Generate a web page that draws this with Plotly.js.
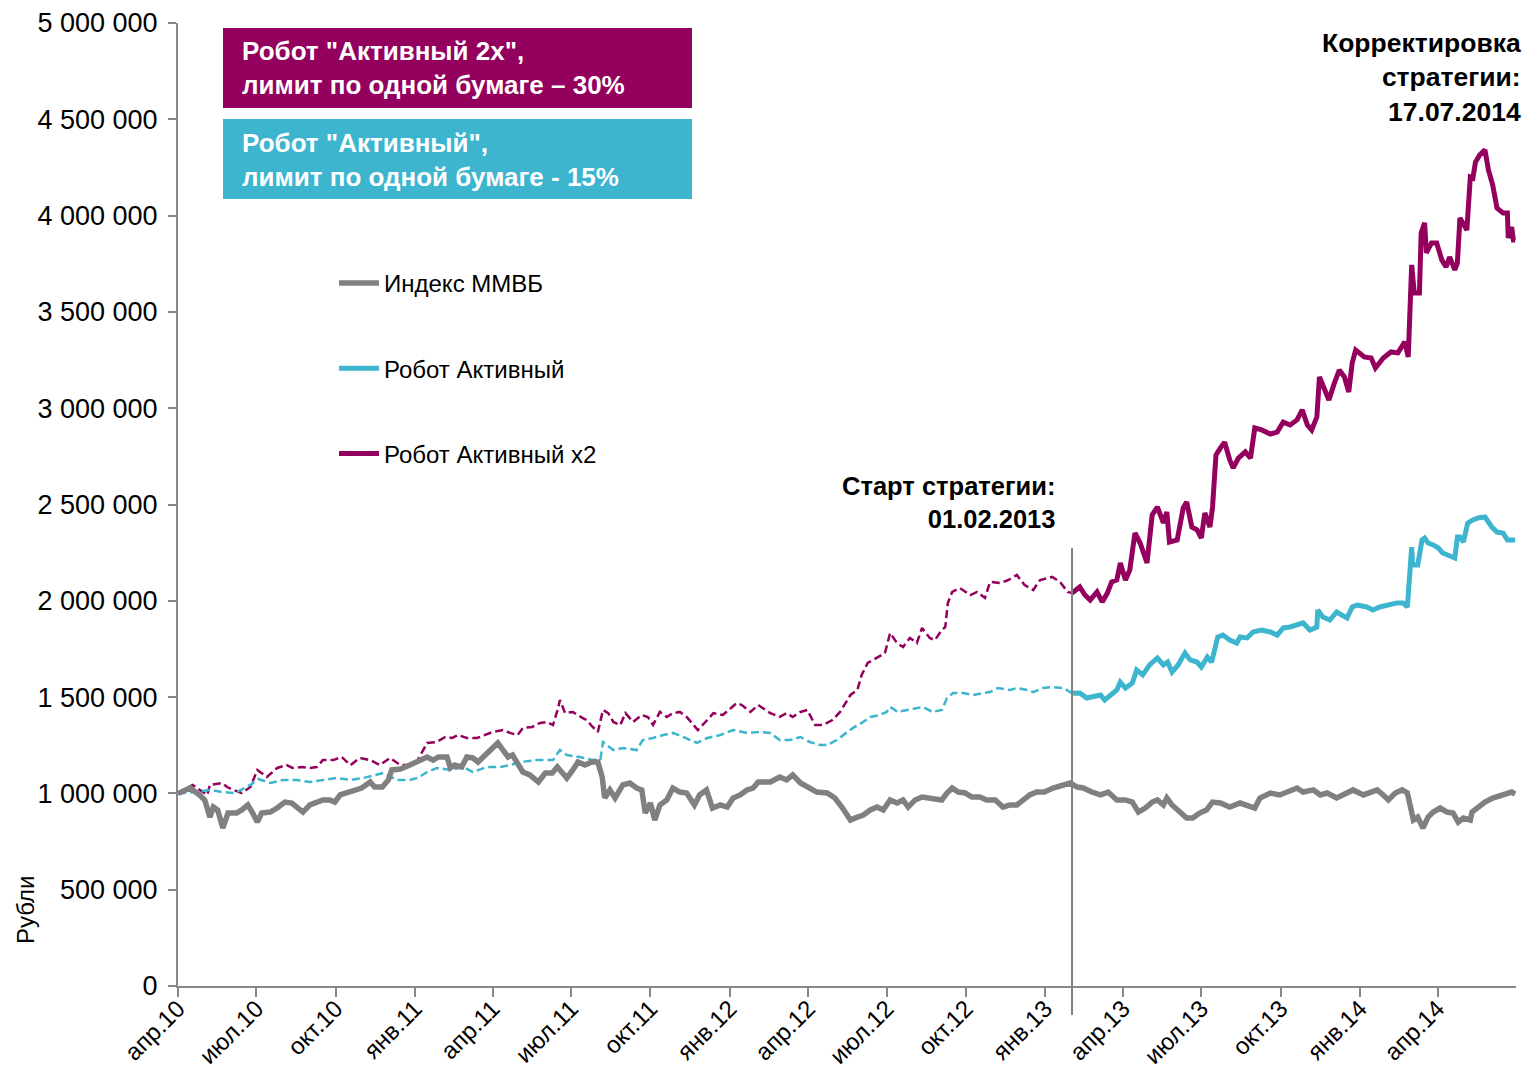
<!DOCTYPE html>
<html><head><meta charset="utf-8">
<script src="https://cdn.plot.ly/plotly-3.0.1.min.js"></script>
<style>html,body{margin:0;padding:0;background:#fff}#chart{width:1525px;height:1078px}</style>
</head><body><div id="chart"></div>
<script>
// ===== DATA =====
const seriesNames = ['Индекс ММВБ', 'Робот Активный', 'Робот Активный x2'];
const startDate = '2013-02-01';
const quarterTicks = ['2010-04-01','2010-07-01','2010-10-01','2011-01-01','2011-04-01','2011-07-01','2011-10-01','2012-01-01','2012-04-01','2012-07-01','2012-10-01','2013-01-01','2013-04-01','2013-07-01','2013-10-01','2014-01-01','2014-04-01'];
const quarterLabels = ['апр.10','июл.10','окт.10','янв.11','апр.11','июл.11','окт.11','янв.12','апр.12','июл.12','окт.12','янв.13','апр.13','июл.13','окт.13','янв.14','апр.14'];
const yTicks = [0,500000,1000000,1500000,2000000,2500000,3000000,3500000,4000000,4500000,5000000];

// Индекс ММВБ (normalised to 1 000 000)
const mmvb = [
['2010-04-01',1000000],['2010-04-15',1028000],['2010-04-26',992000],['2010-05-02',966000],['2010-05-08',877000],['2010-05-12',929000],['2010-05-17',914000],['2010-05-23',820000],['2010-05-29',898000],
['2010-06-08',898000],['2010-06-14',914000],['2010-06-21',940000],['2010-06-26',903000],['2010-07-02',851000],['2010-07-07',898000],['2010-07-17',903000],['2010-07-25',924000],
['2010-08-03',955000],['2010-08-11',950000],['2010-08-18',929000],['2010-08-24',903000],['2010-09-01',940000],['2010-09-09',955000],['2010-09-16',966000],['2010-09-24',966000],['2010-09-30',955000],
['2010-10-06',992000],['2010-10-14',1002000],['2010-10-21',1018000],['2010-10-31',1028000],['2010-11-10',1059000],['2010-11-15',1033000],['2010-11-24',1033000],['2010-12-01',1070000],['2010-12-05',1122000],['2010-12-15',1127000],['2010-12-26',1147000],
['2011-01-04',1163000],['2011-01-15',1189000],['2011-01-22',1173000],['2011-01-28',1189000],['2011-02-07',1189000],['2011-02-11',1132000],['2011-02-16',1147000],['2011-02-24',1137000],
['2011-03-02',1189000],['2011-03-09',1184000],['2011-03-15',1163000],['2011-03-25',1210000],['2011-04-01',1241000],['2011-04-07',1262000],['2011-04-13',1225000],['2011-04-19',1189000],['2011-04-24',1199000],['2011-04-30',1158000],
['2011-05-06',1111000],['2011-05-14',1096000],['2011-05-24',1059000],['2011-06-01',1106000],['2011-06-09',1106000],['2011-06-15',1137000],['2011-06-20',1111000],['2011-06-26',1080000],
['2011-07-03',1122000],['2011-07-09',1163000],['2011-07-17',1147000],['2011-07-25',1163000],['2011-08-01',1163000],['2011-08-06',1085000],['2011-08-09',976000],['2011-08-15',1018000],['2011-08-21',976000],['2011-08-30',1044000],
['2011-09-07',1054000],['2011-09-15',1028000],['2011-09-21',1018000],['2011-09-25',898000],['2011-10-01',950000],['2011-10-06',862000],['2011-10-12',940000],['2011-10-20',966000],['2011-10-27',1028000],
['2011-11-04',1007000],['2011-11-12',1002000],['2011-11-21',940000],['2011-11-27',992000],['2011-12-05',1018000],['2011-12-12',924000],['2011-12-21',940000],['2011-12-29',929000],
['2012-01-05',976000],['2012-01-13',992000],['2012-01-21',1018000],['2012-01-28',1028000],['2012-02-03',1059000],['2012-02-17',1059000],['2012-02-28',1085000],['2012-03-07',1070000],['2012-03-14',1096000],['2012-03-23',1054000],
['2012-04-01',1028000],['2012-04-11',1007000],['2012-04-23',1002000],['2012-05-02',976000],['2012-05-10',929000],['2012-05-16',888000],['2012-05-20',862000],['2012-05-28',877000],
['2012-06-04',888000],['2012-06-12',914000],['2012-06-20',929000],['2012-06-27',914000],['2012-07-05',966000],['2012-07-13',950000],['2012-07-20',966000],['2012-07-26',929000],
['2012-08-03',966000],['2012-08-11',981000],['2012-08-18',976000],['2012-08-26',976000],['2012-09-03',966000],['2012-09-09',1002000],['2012-09-15',1028000],['2012-09-22',1007000],['2012-09-30',1002000],
['2012-10-08',981000],['2012-10-17',981000],['2012-10-25',966000],['2012-11-04',966000],['2012-11-13',929000],['2012-11-21',940000],['2012-11-29',940000],['2012-12-06',966000],['2012-12-14',992000],['2012-12-22',1007000],['2012-12-31',1007000],
['2013-01-10',1028000],['2013-01-22',1044000],['2013-01-30',1054000],['2013-02-07',1033000],['2013-02-14',1028000],['2013-02-24',1007000],['2013-03-06',992000],['2013-03-15',1007000],['2013-03-25',966000],
['2013-04-04',966000],['2013-04-12',955000],['2013-04-19',903000],['2013-04-27',924000],['2013-05-05',955000],['2013-05-11',966000],['2013-05-18',940000],['2013-05-22',976000],['2013-05-28',940000],
['2013-06-04',914000],['2013-06-14',872000],['2013-06-21',872000],['2013-06-29',898000],['2013-07-07',914000],['2013-07-14',955000],['2013-07-23',950000],['2013-08-03',929000],['2013-08-15',950000],['2013-08-23',940000],
['2013-09-01',924000],['2013-09-07',976000],['2013-09-19',1002000],['2013-09-30',992000],['2013-10-12',1018000],['2013-10-20',1028000],['2013-10-27',1007000],['2013-11-08',1018000],['2013-11-16',992000],['2013-11-24',1002000],
['2013-12-05',976000],['2013-12-15',1002000],['2013-12-24',1018000],['2014-01-05',992000],['2014-01-13',1002000],['2014-01-21',1018000],['2014-01-28',992000],
['2014-02-03',966000],['2014-02-11',1002000],['2014-02-19',1018000],['2014-02-25',1002000],['2014-02-28',950000],['2014-03-04',862000],['2014-03-09',877000],['2014-03-15',820000],['2014-03-21',877000],['2014-03-27',903000],
['2014-04-04',924000],['2014-04-12',903000],['2014-04-19',898000],['2014-04-25',851000],['2014-05-01',872000],['2014-05-09',862000],['2014-05-11',903000],['2014-05-18',929000],['2014-05-26',955000],
['2014-06-04',976000],['2014-06-15',992000],['2014-06-26',1007000],['2014-06-30',997000]
];

// Робот Активный — backtest before start (dashed)
const activePre = [
['2010-04-01',1000000],['2010-04-21',1007000],['2010-05-08',1018000],['2010-05-22',1007000],['2010-06-06',1002000],['2010-06-24',1044000],['2010-07-03',1075000],['2010-07-17',1054000],
['2010-08-01',1070000],['2010-08-17',1070000],['2010-09-01',1059000],['2010-09-16',1070000],['2010-10-02',1080000],['2010-10-18',1070000],['2010-11-02',1080000],['2010-11-25',1106000],
['2010-12-11',1070000],['2010-12-26',1070000],['2011-01-04',1080000],['2011-01-15',1111000],['2011-01-26',1132000],['2011-02-11',1122000],['2011-02-26',1137000],['2011-03-09',1111000],['2011-03-25',1137000],
['2011-04-10',1137000],['2011-04-21',1147000],['2011-05-03',1163000],['2011-05-22',1173000],['2011-06-10',1173000],['2011-06-18',1225000],['2011-06-26',1199000],['2011-07-11',1189000],['2011-07-26',1173000],
['2011-08-04',1179000],['2011-08-07',1267000],['2011-08-19',1225000],['2011-08-30',1236000],['2011-09-15',1225000],['2011-09-22',1277000],['2011-10-04',1288000],['2011-10-16',1303000],['2011-10-27',1314000],
['2011-11-08',1293000],['2011-11-24',1262000],['2011-12-06',1288000],['2011-12-21',1303000],['2012-01-05',1329000],['2012-01-21',1314000],['2012-02-05',1319000],['2012-02-17',1314000],['2012-02-28',1277000],
['2012-03-11',1277000],['2012-03-23',1293000],['2012-04-03',1267000],['2012-04-15',1251000],['2012-04-23',1251000],['2012-05-04',1277000],['2012-05-16',1319000],['2012-05-23',1340000],['2012-06-02',1366000],
['2012-06-12',1397000],['2012-06-23',1407000],['2012-07-01',1423000],['2012-07-05',1449000],['2012-07-14',1423000],['2012-07-25',1433000],['2012-08-05',1443000],['2012-08-12',1449000],['2012-08-23',1423000],
['2012-09-03',1433000],['2012-09-09',1495000],['2012-09-16',1521000],['2012-09-28',1521000],['2012-10-09',1511000],['2012-10-21',1521000],['2012-10-29',1526000],['2012-11-07',1547000],['2012-11-21',1537000],
['2012-11-29',1547000],['2012-12-11',1537000],['2012-12-18',1526000],['2012-12-29',1547000],['2013-01-10',1552000],['2013-01-22',1547000],['2013-01-30',1526000],['2013-02-01',1520000]
];

// Робот Активный — live after start (solid)
const activePost = [
['2013-02-01',1520000],['2013-02-10',1521000],['2013-02-18',1495000],['2013-02-25',1500000],['2013-03-06',1511000],['2013-03-11',1485000],['2013-03-19',1511000],['2013-03-25',1537000],['2013-03-29',1578000],
['2013-04-04',1547000],['2013-04-12',1573000],['2013-04-17',1641000],['2013-04-24',1615000],['2013-05-02',1667000],['2013-05-11',1703000],['2013-05-18',1667000],['2013-05-23',1682000],['2013-05-28',1630000],
['2013-06-04',1667000],['2013-06-12',1729000],['2013-06-18',1693000],['2013-06-26',1682000],['2013-07-01',1656000],['2013-07-08',1708000],['2013-07-13',1682000],['2013-07-17',1760000],['2013-07-20',1812000],['2013-07-26',1822000],
['2013-08-03',1796000],['2013-08-11',1781000],['2013-08-15',1812000],['2013-08-23',1807000],['2013-08-30',1838000],['2013-09-09',1848000],['2013-09-19',1838000],['2013-09-27',1822000],
['2013-10-04',1859000],['2013-10-12',1864000],['2013-10-20',1874000],['2013-10-27',1885000],['2013-11-04',1848000],['2013-11-12',1864000],['2013-11-13',1952000],['2013-11-19',1916000],['2013-11-27',1900000],
['2013-12-05',1942000],['2013-12-11',1926000],['2013-12-17',1911000],['2013-12-23',1968000],['2013-12-29',1978000],['2014-01-09',1968000],['2014-01-16',1952000],['2014-01-24',1968000],
['2014-02-01',1978000],['2014-02-13',1989000],['2014-02-20',1989000],['2014-02-25',1968000],['2014-03-02',2279000],['2014-03-03',2186000],['2014-03-09',2186000],['2014-03-14',2316000],['2014-03-17',2326000],['2014-03-21',2300000],['2014-03-27',2290000],
['2014-04-02',2274000],['2014-04-07',2248000],['2014-04-16',2227000],['2014-04-21',2222000],['2014-04-24',2331000],['2014-04-27',2331000],['2014-05-01',2305000],['2014-05-06',2404000],['2014-05-12',2420000],['2014-05-18',2430000],['2014-05-26',2435000],
['2014-05-30',2409000],['2014-06-03',2383000],['2014-06-09',2357000],['2014-06-16',2352000],['2014-06-21',2316000],['2014-06-26',2316000],['2014-06-30',2316000]
];

// Робот Активный x2 — backtest before start (dashed)
const active2Pre = [
['2010-04-01',1000000],['2010-04-18',1044000],['2010-05-05',992000],['2010-05-08',1044000],['2010-05-22',1054000],['2010-05-28',1033000],['2010-06-04',1018000],['2010-06-14',1002000],['2010-06-24',1033000],
['2010-07-02',1122000],['2010-07-13',1085000],['2010-07-25',1132000],['2010-08-05',1147000],['2010-08-12',1132000],['2010-08-23',1137000],['2010-09-01',1132000],['2010-09-09',1137000],['2010-09-16',1173000],['2010-09-28',1173000],
['2010-10-08',1189000],['2010-10-18',1147000],['2010-10-29',1184000],['2010-11-10',1173000],['2010-11-21',1147000],['2010-12-03',1184000],['2010-12-15',1147000],['2010-12-26',1147000],
['2011-01-04',1173000],['2011-01-15',1262000],['2011-01-26',1267000],['2011-02-05',1293000],['2011-02-13',1288000],['2011-02-20',1303000],['2011-03-02',1288000],['2011-03-14',1288000],['2011-03-23',1303000],
['2011-04-01',1319000],['2011-04-13',1329000],['2011-04-21',1314000],['2011-04-30',1303000],['2011-05-06',1340000],['2011-05-17',1345000],['2011-05-26',1366000],['2011-06-03',1371000],['2011-06-10',1355000],
['2011-06-16',1444000],['2011-06-18',1485000],['2011-06-24',1417000],['2011-07-03',1423000],['2011-07-14',1392000],['2011-07-19',1381000],['2011-07-26',1345000],['2011-08-01',1319000],['2011-08-07',1433000],
['2011-08-13',1417000],['2011-08-19',1371000],['2011-08-27',1355000],['2011-09-02',1417000],['2011-09-11',1371000],['2011-09-21',1407000],['2011-09-28',1397000],['2011-10-04',1355000],['2011-10-12',1423000],
['2011-10-20',1397000],['2011-10-27',1417000],['2011-11-04',1423000],['2011-11-12',1397000],['2011-11-18',1366000],['2011-11-25',1329000],['2011-12-06',1381000],['2011-12-13',1417000],['2011-12-24',1407000],
['2012-01-03',1449000],['2012-01-09',1469000],['2012-01-15',1459000],['2012-01-25',1423000],['2012-02-03',1459000],['2012-02-17',1417000],['2012-02-28',1397000],['2012-03-07',1417000],['2012-03-14',1397000],
['2012-03-23',1423000],['2012-03-31',1433000],['2012-04-09',1355000],['2012-04-18',1355000],['2012-04-29',1381000],['2012-05-08',1423000],['2012-05-14',1469000],['2012-05-20',1511000],['2012-05-28',1537000],
['2012-06-02',1615000],['2012-06-09',1677000],['2012-06-20',1708000],['2012-06-29',1729000],['2012-07-05',1833000],['2012-07-13',1781000],['2012-07-20',1760000],['2012-07-28',1807000],['2012-08-05',1781000],
['2012-08-11',1859000],['2012-08-20',1807000],['2012-08-26',1796000],['2012-09-03',1848000],['2012-09-07',1864000],['2012-09-10',1989000],['2012-09-15',2046000],['2012-09-24',2066000],['2012-10-06',2030000],
['2012-10-14',2046000],['2012-10-23',2015000],['2012-10-29',2098000],['2012-11-10',2092000],['2012-11-19',2108000],['2012-11-29',2134000],['2012-12-08',2082000],['2012-12-18',2056000],['2012-12-26',2108000],
['2013-01-09',2124000],['2013-01-18',2098000],['2013-01-27',2046000],['2013-02-01',2040000]
];

// Робот Активный x2 — live after start (solid)
const active2Post = [
['2013-02-01',2040000],['2013-02-10',2072000],['2013-02-16',2030000],['2013-02-22',2004000],['2013-03-02',2046000],['2013-03-08',1994000],['2013-03-14',2040000],['2013-03-19',2098000],['2013-03-25',2108000],['2013-03-29',2196000],
['2013-04-04',2108000],['2013-04-09',2160000],['2013-04-15',2352000],['2013-04-21',2300000],['2013-04-29',2196000],['2013-05-05',2446000],['2013-05-11',2487000],['2013-05-18',2404000],['2013-05-22',2461000],['2013-05-25',2305000],
['2013-06-03',2316000],['2013-06-10',2482000],['2013-06-14',2513000],['2013-06-20',2383000],['2013-06-26',2368000],['2013-07-01',2326000],['2013-07-05',2456000],['2013-07-11',2383000],['2013-07-14',2487000],['2013-07-18',2757000],
['2013-07-23',2793000],['2013-07-28',2824000],['2013-08-03',2731000],['2013-08-07',2690000],['2013-08-13',2741000],['2013-08-21',2773000],['2013-08-27',2741000],['2013-09-01',2897000],['2013-09-09',2887000],['2013-09-19',2866000],
['2013-09-27',2876000],['2013-10-04',2928000],['2013-10-12',2913000],['2013-10-20',2939000],['2013-10-26',2991000],['2013-11-01',2913000],['2013-11-06',2887000],['2013-11-12',2954000],['2013-11-15',3162000],['2013-11-20',3110000],
['2013-11-26',3043000],['2013-12-02',3126000],['2013-12-08',3198000],['2013-12-14',3162000],['2013-12-19',3084000],['2013-12-23',3235000],['2013-12-27',3302000],['2014-01-06',3266000],['2014-01-14',3261000],['2014-01-19',3209000],
['2014-01-28',3261000],['2014-02-06',3292000],['2014-02-14',3287000],['2014-02-22',3344000],['2014-02-26',3266000],['2014-03-02',3744000],['2014-03-05',3598000],['2014-03-11',3598000],['2014-03-13',3910000],['2014-03-17',3962000],
['2014-03-19',3806000],['2014-03-25',3858000],['2014-03-31',3858000],['2014-04-06',3769000],['2014-04-11',3733000],['2014-04-15',3785000],['2014-04-21',3718000],['2014-04-24',3754000],['2014-04-27',3988000],['2014-05-05',3925000],
['2014-05-09',4200000],['2014-05-12',4195000],['2014-05-15',4278000],['2014-05-20',4315000],['2014-05-26',4341000],['2014-05-30',4237000],['2014-06-04',4159000],['2014-06-09',4039000],['2014-06-16',4014000],['2014-06-21',4014000],
['2014-06-22',3884000],['2014-06-26',3941000],['2014-06-28',3873000],['2014-06-30',3873000]
];

// ===== STYLE =====
const GREY = '#808080', CYAN = '#3DB5CF', PURPLE = '#93005D';
const FONT = 'Liberation Sans, Arial, sans-serif';
const xs = a => a.map(p => p[0]);
const ys = a => a.map(p => p[1]);
const dashPat = '8px,4px';

const traces = [
  {x: xs(active2Pre), y: ys(active2Pre), mode: 'lines', line: {color: PURPLE, width: 2.5, dash: dashPat}, showlegend: false, hoverinfo: 'skip'},
  {x: xs(activePre), y: ys(activePre), mode: 'lines', line: {color: CYAN, width: 2.5, dash: dashPat}, showlegend: false, hoverinfo: 'skip'},
  {x: xs(mmvb), y: ys(mmvb), name: seriesNames[0], legendgroup: 'g1', mode: 'lines', line: {color: GREY, width: 5.5}},
  {x: xs(activePost), y: ys(activePost), name: seriesNames[1], legendgroup: 'g2', mode: 'lines', line: {color: CYAN, width: 5}},
  {x: xs(active2Post), y: ys(active2Post), name: seriesNames[2], legendgroup: 'g3', mode: 'lines', line: {color: PURPLE, width: 5}}
];

const PL = 178, PR = 1516, PT = 23, PB = 986;
const px = v => (v - PL) / (PR - PL);
const py = v => (PB - v) / (PB - PT);

const layout = {
  width: 1525, height: 1078,
  margin: {l: PL, r: 1525 - PR, t: PT, b: 1078 - PB, pad: 0},
  paper_bgcolor: '#fff', plot_bgcolor: '#fff',
  font: {family: FONT, size: 24, color: '#000'},
  separators: ', ',
  showlegend: true,
  legend: {x: px(334), y: py(261), xanchor: 'left', yanchor: 'top', traceorder: 'grouped', tracegroupgap: 51,
           font: {family: FONT, size: 24, color: '#000'}, bgcolor: 'rgba(0,0,0,0)', borderwidth: 0, itemwidth: 40},
  xaxis: {type: 'date', range: ['2010-04-01', '2014-07-01'], tickmode: 'array', tickvals: quarterTicks, ticktext: quarterLabels,
          tickangle: -45, ticks: 'outside', ticklen: 9, tickwidth: 2, tickcolor: '#888', showline: true, linecolor: '#888', linewidth: 2,
          showgrid: false, zeroline: false, tickfont: {family: FONT, size: 24, color: '#000'}, ticklabelstandoff: -12},
  yaxis: {range: [0, 5000000], tickmode: 'array', tickvals: yTicks, tickformat: ',d', ticks: 'outside', ticklen: 8, tickwidth: 2,
          tickcolor: '#888', showline: true, linecolor: '#888', linewidth: 2, showgrid: false, zeroline: false,
          tickfont: {family: FONT, size: 27, color: '#000'}, ticklabelstandoff: 5},
  shapes: [
    {type: 'rect', xref: 'paper', yref: 'paper', x0: px(223), x1: px(692), y0: py(108), y1: py(28), fillcolor: PURPLE, line: {width: 0}},
    {type: 'rect', xref: 'paper', yref: 'paper', x0: px(223), x1: px(692), y0: py(199), y1: py(119), fillcolor: CYAN, line: {width: 0}},
    {type: 'line', xref: 'x', yref: 'paper', x0: startDate, x1: startDate, y0: py(1015), y1: py(548), line: {color: GREY, width: 2}}
  ],
  annotations: [
    {xref: 'paper', yref: 'paper', x: px(240), y: py(68), xanchor: 'left', yanchor: 'middle', align: 'left', showarrow: false,
     text: '<b>Робот "Активный 2х",<br>лимит по одной бумаге – 30%</b>', font: {family: FONT, size: 26, color: '#fff'}},
    {xref: 'paper', yref: 'paper', x: px(240), y: py(160), xanchor: 'left', yanchor: 'middle', align: 'left', showarrow: false,
     text: '<b>Робот "Активный",<br>лимит по одной бумаге - 15%</b>', font: {family: FONT, size: 26, color: '#fff'}},
    {xref: 'paper', yref: 'paper', x: px(1057), y: py(502), xanchor: 'right', yanchor: 'middle', align: 'right', showarrow: false,
     text: '<b>Старт стратегии:<br>01.02.2013</b>', font: {family: FONT, size: 25.5, color: '#000'}},
    {xref: 'paper', yref: 'paper', x: px(1523), y: py(78), xanchor: 'right', yanchor: 'middle', align: 'right', showarrow: false,
     text: '<b>Корректировка<br>стратегии:<br>17.07.2014</b>', font: {family: FONT, size: 26.5, color: '#000'}},
    {xref: 'paper', yref: 'paper', x: px(25), y: py(910), xanchor: 'center', yanchor: 'middle', textangle: -90, showarrow: false,
     text: 'Рубли', font: {family: FONT, size: 24, color: '#000'}}
  ]
};

Plotly.newPlot('chart', traces, layout, {displayModeBar: false, staticPlot: true});
</script>
</body></html>
